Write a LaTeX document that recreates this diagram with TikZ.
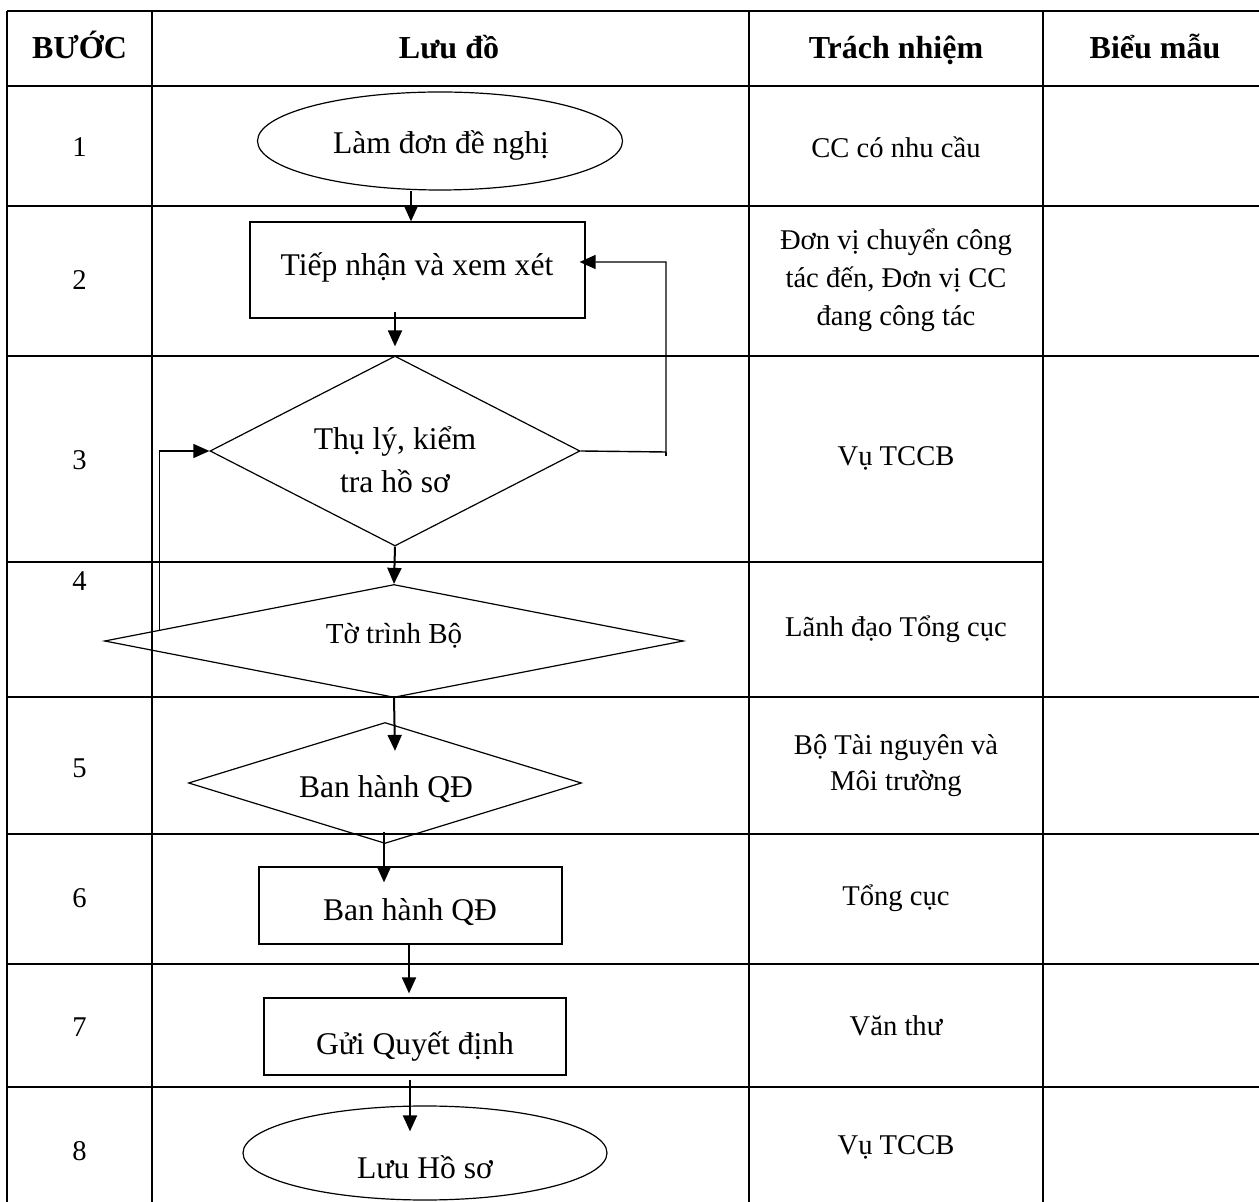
\documentclass[tikz,border=0pt]{standalone}
\usepackage{fontspec}
\setmainfont{Liberation Serif}
\usetikzlibrary{shapes.geometric,arrows.meta,calc}

\tikzset{
  grid/.style={line width=0.95pt},
  shapeline/.style={draw, line width=0.6pt, inner sep=0pt},
  procbox/.style={shapeline, rectangle},
  termin/.style={shapeline, ellipse},
  decide/.style={shapeline, diamond},
  % sizes given in picture units (1 unit = 0.5pt)
  sz/.style 2 args={minimum width=#1*0.5pt, minimum height=#2*0.5pt},
  arr/.style={line width=1pt, -{Triangle[length=8pt,width=7pt]}},
  thinarr/.style={line width=0.6pt, -{Triangle[length=8pt,width=7pt]}},
  head/.style={font=\fontsize{16pt}{19pt}\selectfont\bfseries, anchor=base, inner sep=0pt},
  cell/.style={font=\fontsize{14.3pt}{18.5pt}\selectfont, align=center, inner sep=0pt},
  flow/.style={font=\fontsize{15.8pt}{22pt}\selectfont, align=center, inner sep=0pt, anchor=base},
}

\begin{document}
\begin{tikzpicture}[x=0.5pt,y=-0.5pt]
\useasboundingbox (0,0) rectangle (1259,1202);

% table grid
\foreach \yy in {11,86,206,356,697,834,964,1087}
  \draw[grid] (7,\yy) -- (1259,\yy);
\draw[grid] (7,562) -- (1043,562);
\foreach \xx in {7,152,749,1043}
  \draw[grid] (\xx,11) -- (\xx,1202);

% header row
\node[head] (hStep) at (79.5,59) {BƯỚC};
\node[head] (hFlow) at (449,59) {Lưu đồ};
\node[head] (hResp) at (896,59) {Trách nhiệm};
\node[head] (hForm) at (1155,59) {Biểu mẫu};

% step numbers
\node[cell] (n1) at (79.5,147) {1};
\node[cell] (n2) at (79.5,280) {2};
\node[cell] (n3) at (79.5,460) {3};
\node[cell] (n4) at (79.5,581) {4};
\node[cell] (n5) at (79.5,768) {5};
\node[cell] (n6) at (79.5,898) {6};
\node[cell] (n7) at (79.5,1027) {7};
\node[cell] (n8) at (79.5,1151) {8};

% responsibilities
\node[cell] (r1) at (896,147) {CC có nhu cầu};
\node[cell, font=\fontsize{14.3pt}{19pt}\selectfont] (r2) at (896,280) {Đơn vị chuyển công\\tác đến, Đơn vị CC\\đang công tác};
\node[cell] (r3) at (896,458) {Vụ TCCB};
\node[cell] (r4) at (896,629) {Lãnh đạo Tổng cục};
\node[cell, font=\fontsize{14.3pt}{18pt}\selectfont] (r5) at (896,766) {Bộ Tài nguyên và\\Môi trường};
\node[cell] (r6) at (896,898) {Tổng cục};
\node[cell] (r7) at (896,1026) {Văn thư};
\node[cell] (r8) at (896,1147) {Vụ TCCB};

% flowchart shapes
\node[termin, sz={365}{98}] (s1) at (440,141) {};
\node[procbox, sz={335}{96}] (s2) at (417.5,270) {};
\node[decide, sz={370}{190}] (s3) at (395,451) {};
\node[decide, sz={579}{113}] (s4) at (394,641) {};
\node[decide, sz={393}{121}] (s5) at (385,783) {};
\node[procbox, sz={303}{77}] (s6) at (410.5,905.5) {};
\node[procbox, sz={302}{77}] (s7) at (415,1036.5) {};
\node[termin, sz={364}{94}] (s8) at (425,1153) {};

% flowchart texts
\node[flow] (t1) at (441,154) {Làm đơn đề nghị};
\node[flow] (t2) at (417,276) {Tiếp nhận và xem xét};
\node[flow] (t3a) at (395,450) {Thụ lý, kiểm};
\node[flow] (t3b) at (395,493) {tra hồ sơ};
\node[flow, font=\fontsize{14.5pt}{18pt}\selectfont] (t4) at (394,644) {Tờ trình Bộ};
\node[flow] (t5) at (386,798) {Ban hành QĐ};
\node[flow] (t6) at (410,921) {Ban hành QĐ};
\node[flow] (t7) at (415,1054) {Gửi Quyết định};
\node[flow] (t8) at (425,1178) {Lưu Hồ sơ};

% connectors
\draw[arr] ($(s1.south)+(-29,0)$) -- ($(s2.north)+(-6.5,0)$);
\draw[arr] ($(s2.south)+(-22.5,-7)$) -- ($(s3.north)+(0,-9)$);
\draw[arr] (s3.south) -- (s4.north);
\draw[arr] (s4.south) -- ($(s5.north)+(10,29)$);
\draw[arr] ($(s5.south)+(-1,-12)$) -- ($(s6.north)+(-26.5,16)$);
\draw[arr] ($(s6.south)+(-1.5,-2)$) -- ($(s7.north)+(-6,-4)$);
\draw[arr] ($(s7.south)+(-5,4)$) -- ($(s8.north)+(-15,26)$);

% return loops
\coordinate (rb) at (666,452);
\draw[line width=0.7pt] (rb) -- (666,456);
\draw[arr, line width=0.7pt] (s3.east) -- (rb) |- ($(s2.east)+(-6,-8)$);
\coordinate (lb) at ($(s4.west)!0.193!(s4.north)$);
\draw[thinarr] (lb) |- (s3.west);
\end{tikzpicture}
\end{document}
